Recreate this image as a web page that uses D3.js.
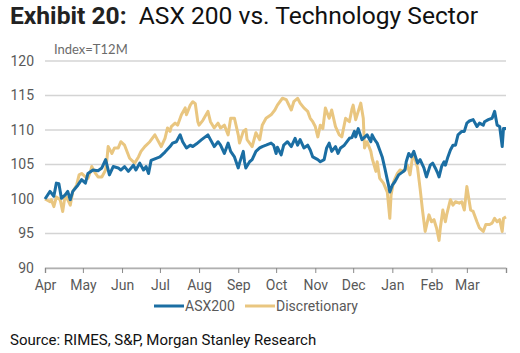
<!DOCTYPE html>
<html>
<head>
<meta charset="utf-8">
<script src="https://cdn.jsdelivr.net/npm/d3@7"></script>
<style>
  body { margin: 0; background: #fff; }
  svg { display: block; }
</style>
</head>
<body>
<div id="chart"></div>
<script>
// days since 1 Apr and index level (T12M = 100)
var asxDays = [0,4,7,9,11,13,16,18,20,22,26,29,32,34,38,42,45,48,51,54,58,60,63,66,70,72,75,78,80,82,84,88,91,95,99,101,104,107,109,112,115,117,120,124,129,131,134,137,139,142,145,147,150,153,154,157,158,159,162,164,167,170,172,175,179,181,183,184,187,189,192,195,198,200,202,205,208,210,212,216,218,221,223,225,227,230,232,234,237,241,243,245,246,248,251,255,258,259,261,263,265,267,269,271,272,273,275,277,280,283,285,286,288,290,292,295,297,300,302,305,307,309,311,312,314,316,317,319,321,323,325,327,330,332,334,336,339,342,344,347,348,351,354,356,358,360,362,363,365];
var asxVals = [100.0,101.1,100.4,102.3,102.2,100.1,100.6,101.1,99.9,101.1,102.0,102.8,102.3,103.7,104.2,104.1,104.5,105.7,103.5,104.7,104.5,104.2,104.7,104.0,104.9,104.2,105.2,104.2,104.7,103.7,105.6,105.9,106.1,106.8,107.6,108.1,108.3,109.3,108.3,107.4,107.8,107.6,108.0,108.6,109.3,108.6,107.6,108.3,107.8,106.6,108.1,106.9,106.1,104.5,105.2,106.9,105.4,104.5,105.4,105.7,106.9,107.4,107.6,107.8,108.1,107.8,106.6,107.5,106.4,107.8,108.3,107.6,108.8,107.8,108.6,107.4,107.8,107.1,106.1,105.7,105.4,105.7,107.4,108.1,106.9,107.6,106.6,107.4,107.8,108.8,108.9,109.8,109.0,110.2,108.6,109.3,108.3,109.3,108.6,108.1,107.1,106.1,104.5,102.8,102.0,101.0,102.0,102.5,103.5,103.9,104.2,105.4,106.6,106.1,106.9,105.2,105.7,104.5,103.2,104.9,105.2,104.5,103.7,103.2,104.7,105.4,104.9,106.1,107.1,107.8,107.8,109.3,109.8,109.8,111.0,111.3,111.5,110.5,111.0,110.7,111.2,111.5,111.7,112.7,110.7,110.5,107.6,110.2,110.2];

var discDays = [0,4,5,7,9,12,14,16,18,20,22,25,27,29,32,34,36,37,40,42,45,48,49,50,53,55,58,60,63,67,71,74,76,79,83,87,89,92,95,97,99,100,103,105,108,111,112,115,117,119,121,122,125,129,131,134,137,139,142,145,147,150,153,154,157,159,160,164,167,170,172,175,179,182,184,188,191,195,197,200,202,205,208,210,212,214,216,218,220,222,225,227,230,233,235,238,241,243,244,246,248,250,252,253,255,258,259,262,263,265,268,271,272,273,274,276,279,281,284,287,289,291,292,295,297,299,301,304,306,308,310,312,313,315,317,318,321,323,325,328,330,332,334,337,339,342,344,347,349,352,354,356,358,360,362,363,365];
var discVals = [100.0,99.6,99.9,98.9,100.3,99.9,98.2,100.6,99.9,99.1,101.1,102.0,103.5,103.7,103.2,103.0,104.0,104.7,103.7,103.2,103.2,104.2,105.7,107.6,106.6,107.4,107.4,108.3,107.8,105.9,105.2,106.1,106.9,107.6,108.3,109.3,108.6,107.6,108.8,110.3,109.8,110.5,111.0,110.7,112.2,113.2,112.2,113.6,114.1,113.8,111.2,110.7,111.4,112.7,111.2,110.3,111.0,110.3,110.7,109.3,111.7,111.7,109.3,108.1,109.8,110.1,108.6,107.6,109.6,108.6,110.7,111.7,112.2,112.9,113.6,114.6,114.4,112.9,114.1,114.6,113.9,113.2,112.7,111.7,111.2,110.5,109.0,110.7,110.2,113.2,111.7,112.9,110.5,109.3,109.0,111.7,111.2,113.0,113.6,111.5,112.7,113.9,111.7,107.4,108.3,106.9,105.9,104.0,105.4,103.0,102.3,101.0,99.1,97.2,100.6,102.5,103.7,104.2,104.0,104.9,103.5,106.1,106.4,104.5,101.5,98.2,95.3,97.7,96.7,97.0,95.8,94.0,95.8,98.4,96.7,97.7,99.9,99.1,99.6,99.4,99.6,98.4,101.8,98.4,98.2,96.7,95.8,95.3,96.3,96.3,96.5,97.2,96.7,97.0,95.3,97.2,97.4];

var yTicks = [90, 95, 100, 105, 110, 115, 120];
var seriesNames = ["ASX200", "Discretionary"];
var seriesColors = ["#1b6ea3", "#e9c680"];

var width = 520, height = 353;
var start = new Date(2021, 3, 1), end = new Date(2022, 3, 1);

var svg = d3.select("#chart").append("svg")
    .attr("width", width)
    .attr("height", height);

// title
var title = svg.append("text")
    .attr("x", 10)
    .attr("y", 24)
    .style("font-family", "Roboto, sans-serif")
    .style("font-size", "24.6px")
    .attr("fill", "#111");
title.append("tspan").style("font-weight", "bold").attr("fill", "#222").text("Exhibit 20:");
title.append("tspan").text("\u00a0\u00a0ASX 200 vs. Technology Sector");

svg.append("text")
    .attr("x", 54)
    .attr("y", 54)
    .style("font-family", "Lato, sans-serif")
    .style("font-size", "13px")
    .attr("fill", "#6b6b6b")
    .text("Index=T12M");

var x = d3.scaleTime().domain([start, end]).range([45, 506]);
var y = d3.scaleLinear().domain([90, 120]).range([268, 61]);

// gridlines
svg.append("g")
    .selectAll("line")
    .data(yTicks)
    .enter()
    .append("line")
    .attr("x1", 45)
    .attr("x2", 506)
    .attr("y1", function(d) { return y(d); })
    .attr("y2", function(d) { return y(d); })
    .attr("stroke", "#d4d4d4")
    .attr("stroke-width", 1.5);

// y labels
var yAxis = svg.append("g")
    .attr("transform", "translate(34,0)")
    .call(d3.axisLeft(y).tickValues(yTicks).tickSize(0).tickPadding(0));
yAxis.select(".domain").remove();
yAxis.selectAll("text")
    .style("font-family", "Roboto, sans-serif")
    .style("font-size", "14px")
    .attr("fill", "#595959");

// x axis
var xAxis = svg.append("g")
    .attr("transform", "translate(0,268)")
    .call(d3.axisBottom(x)
        .ticks(d3.timeMonth.every(1))
        .tickSize(5)
        .tickPadding(7)
        .tickFormat(function(d) { return d >= end ? "" : d3.timeFormat("%b")(d); }));
xAxis.select(".domain").attr("stroke", "#b0b0b0").attr("stroke-width", 1.5);
xAxis.selectAll(".tick line").attr("stroke", "#8a8a8a");
xAxis.selectAll("text")
    .style("font-family", "Roboto, sans-serif")
    .style("font-size", "14px")
    .attr("fill", "#595959");

// lines
function toPoints(days, vals) {
    return days.map(function(d, i) {
        return { date: d3.timeDay.offset(start, d), value: vals[i] };
    });
}
var line = d3.line()
    .x(function(d) { return x(d.date); })
    .y(function(d) { return y(d.value); });

var series = [toPoints(discDays, discVals), toPoints(asxDays, asxVals)];
var seriesCol = [seriesColors[1], seriesColors[0]];

svg.append("g")
    .selectAll("path")
    .data(series)
    .enter()
    .append("path")
    .attr("d", line)
    .attr("fill", "none")
    .attr("stroke", function(d, i) { return seriesCol[i]; })
    .attr("stroke-width", 3)
    .attr("stroke-linejoin", "round");

// legend
var legendX = [154, 245];
var lg = svg.append("g")
    .selectAll("g")
    .data(seriesNames)
    .enter()
    .append("g")
    .attr("transform", function(d, i) { return "translate(" + legendX[i] + ",306)"; });
lg.append("line")
    .attr("x1", 0).attr("x2", 30)
    .attr("stroke", function(d, i) { return seriesColors[i]; })
    .attr("stroke-width", 3);
lg.append("text")
    .attr("x", 31)
    .attr("dy", "0.35em")
    .style("font-family", "Roboto, sans-serif")
    .style("font-size", "14px")
    .attr("fill", "#595959")
    .text(function(d) { return d; });

// source
svg.append("text")
    .attr("x", 10)
    .attr("y", 345)
    .style("font-family", "Roboto, sans-serif")
    .style("font-size", "15px")
    .attr("fill", "#111")
    .text("Source: RIMES, S&P, Morgan Stanley Research");
</script>
</body>
</html>
